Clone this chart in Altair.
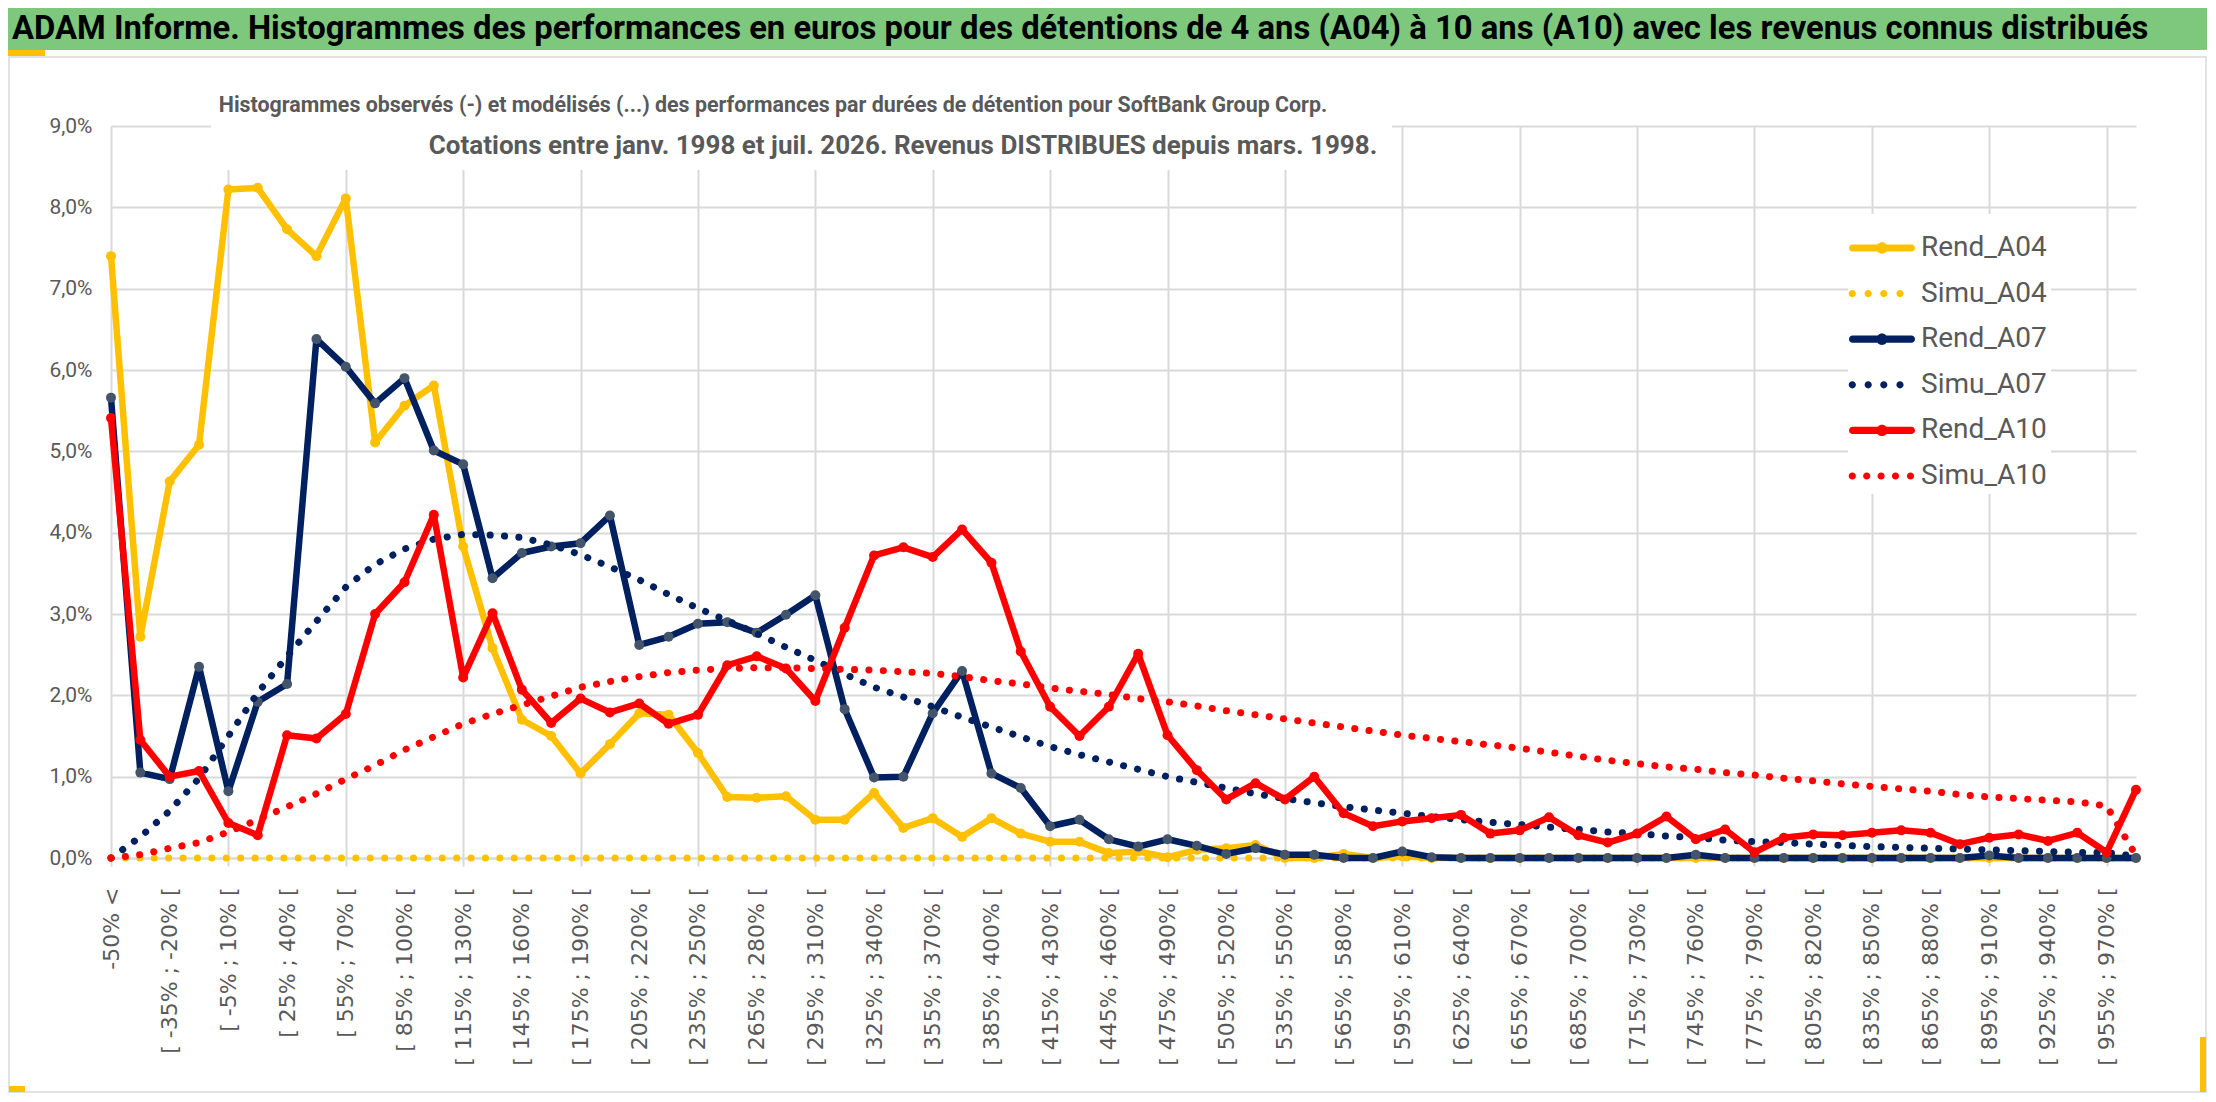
import altair as alt
import pandas as pd

# ---------------- data ----------------
CATEGORIES = [
    "-50% <", "[ -50% ; -35% [", "[ -35% ; -20% [", "[ -20% ; -5% [", "[ -5% ; 10% [",
    "[ 10% ; 25% [", "[ 25% ; 40% [", "[ 40% ; 55% [", "[ 55% ; 70% [", "[ 70% ; 85% [",
    "[ 85% ; 100% [", "[ 100% ; 115% [", "[ 115% ; 130% [", "[ 130% ; 145% [", "[ 145% ; 160% [",
    "[ 160% ; 175% [", "[ 175% ; 190% [", "[ 190% ; 205% [", "[ 205% ; 220% [", "[ 220% ; 235% [",
    "[ 235% ; 250% [", "[ 250% ; 265% [", "[ 265% ; 280% [", "[ 280% ; 295% [", "[ 295% ; 310% [",
    "[ 310% ; 325% [", "[ 325% ; 340% [", "[ 340% ; 355% [", "[ 355% ; 370% [", "[ 370% ; 385% [",
    "[ 385% ; 400% [", "[ 400% ; 415% [", "[ 415% ; 430% [", "[ 430% ; 445% [", "[ 445% ; 460% [",
    "[ 460% ; 475% [", "[ 475% ; 490% [", "[ 490% ; 505% [", "[ 505% ; 520% [", "[ 520% ; 535% [",
    "[ 535% ; 550% [", "[ 550% ; 565% [", "[ 565% ; 580% [", "[ 580% ; 595% [", "[ 595% ; 610% [",
    "[ 610% ; 625% [", "[ 625% ; 640% [", "[ 640% ; 655% [", "[ 655% ; 670% [", "[ 670% ; 685% [",
    "[ 685% ; 700% [", "[ 700% ; 715% [", "[ 715% ; 730% [", "[ 730% ; 745% [", "[ 745% ; 760% [",
    "[ 760% ; 775% [", "[ 775% ; 790% [", "[ 790% ; 805% [", "[ 805% ; 820% [", "[ 820% ; 835% [",
    "[ 835% ; 850% [", "[ 850% ; 865% [", "[ 865% ; 880% [", "[ 880% ; 895% [", "[ 895% ; 910% [",
    "[ 910% ; 925% [", "[ 925% ; 940% [", "[ 940% ; 955% [", "[ 955% ; 970% [", "> 970%",
]

SERIES = ["Rend_A04", "Simu_A04", "Rend_A07", "Simu_A07", "Rend_A10", "Simu_A10"]
COLORS = ["#FFC000", "#FFC000", "#002060", "#002060", "#FF0000", "#FF0000"]
MARKER_COLORS = ["#FFC000", None, "#44546A", None, "#FF0000", None]

# values in percent
REND_A04 = [
    7.40, 2.72, 4.63, 5.08, 8.22, 8.24, 7.73, 7.40, 8.11, 5.11,
    5.56, 5.81, 3.83, 2.58, 1.70, 1.50, 1.04, 1.40, 1.78, 1.76,
    1.29, 0.75, 0.74, 0.76, 0.47, 0.47, 0.80, 0.37, 0.49, 0.26,
    0.49, 0.30, 0.20, 0.20, 0.06, 0.08, 0.01, 0.10, 0.12, 0.16,
    0.00, 0.00, 0.05, 0.00, 0.02, 0.00, 0.00, 0.00, 0.00, 0.00,
    0.00, 0.00, 0.00, 0.00, 0.00, 0.00, 0.00, 0.00, 0.00, 0.00,
    0.00, 0.00, 0.00, 0.00, 0.00, 0.00, 0.00, 0.00, 0.00, 0.00,
]
SIMU_A04 = [
    0.00, 0.00, 0.00, 0.00, 0.00, 0.00, 0.00, 0.00, 0.00, 0.00,
    0.00, 0.00, 0.00, 0.00, 0.00, 0.00, 0.00, 0.00, 0.00, 0.00,
    0.00, 0.00, 0.00, 0.00, 0.00, 0.00, 0.00, 0.00, 0.00, 0.00,
    0.00, 0.00, 0.00, 0.00, 0.00, 0.00, 0.00, 0.00, 0.00, 0.00,
    0.00, 0.00, 0.00, 0.00, 0.00, 0.00, 0.00, 0.00, 0.00, 0.00,
    0.00, 0.00, 0.00, 0.00, 0.00, 0.00, 0.00, 0.00, 0.00, 0.00,
    0.00, 0.00, 0.00, 0.00, 0.00, 0.00, 0.00, 0.00, 0.00, 0.00,
]
REND_A07 = [
    5.66, 1.05, 0.97, 2.35, 0.82, 1.92, 2.14, 6.38, 6.04, 5.59,
    5.90, 5.01, 4.84, 3.44, 3.75, 3.83, 3.87, 4.21, 2.62, 2.72,
    2.88, 2.90, 2.77, 2.99, 3.23, 1.83, 0.99, 1.00, 1.78, 2.30,
    1.04, 0.86, 0.39, 0.47, 0.23, 0.14, 0.23, 0.15, 0.05, 0.12,
    0.04, 0.04, 0.00, 0.00, 0.08, 0.01, 0.00, 0.00, 0.00, 0.00,
    0.00, 0.00, 0.00, 0.00, 0.04, 0.00, 0.00, 0.00, 0.00, 0.00,
    0.00, 0.00, 0.00, 0.00, 0.03, 0.00, 0.00, 0.00, 0.00, 0.00,
]
SIMU_A07 = [
    0.00, 0.26, 0.58, 0.98, 1.50, 2.03, 2.48, 2.91, 3.33, 3.61,
    3.80, 3.92, 3.98, 3.97, 3.94, 3.85, 3.73, 3.58, 3.42, 3.24,
    3.07, 2.92, 2.76, 2.59, 2.43, 2.26, 2.10, 1.98, 1.86, 1.73,
    1.61, 1.49, 1.37, 1.27, 1.18, 1.09, 1.00, 0.93, 0.86, 0.79,
    0.73, 0.68, 0.63, 0.59, 0.55, 0.51, 0.47, 0.44, 0.41, 0.38,
    0.35, 0.32, 0.30, 0.27, 0.25, 0.22, 0.20, 0.19, 0.17, 0.155,
    0.14, 0.13, 0.12, 0.11, 0.10, 0.09, 0.08, 0.07, 0.065, 0.02,
]
REND_A10 = [
    5.41, 1.45, 1.00, 1.07, 0.43, 0.28, 1.51, 1.47, 1.77, 3.00,
    3.39, 4.22, 2.22, 3.01, 2.07, 1.66, 1.96, 1.79, 1.90, 1.65,
    1.76, 2.37, 2.48, 2.33, 1.93, 2.83, 3.72, 3.82, 3.70, 4.04,
    3.63, 2.54, 1.86, 1.50, 1.86, 2.51, 1.51, 1.08, 0.72, 0.92,
    0.72, 1.00, 0.55, 0.39, 0.45, 0.49, 0.53, 0.30, 0.34, 0.50,
    0.28, 0.19, 0.30, 0.51, 0.23, 0.35, 0.07, 0.25, 0.29, 0.28,
    0.31, 0.34, 0.31, 0.17, 0.25, 0.29, 0.21, 0.31, 0.07, 0.84,
]
SIMU_A10 = [
    0.00, 0.04, 0.12, 0.19, 0.32, 0.47, 0.63, 0.79, 0.97, 1.14,
    1.33, 1.49, 1.65, 1.77, 1.88, 1.99, 2.10, 2.17, 2.23, 2.28,
    2.31, 2.33, 2.34, 2.34, 2.33, 2.32, 2.31, 2.29, 2.27, 2.23,
    2.18, 2.14, 2.09, 2.05, 2.01, 1.96, 1.92, 1.87, 1.81, 1.76,
    1.71, 1.66, 1.61, 1.56, 1.51, 1.47, 1.43, 1.39, 1.35, 1.30,
    1.25, 1.20, 1.16, 1.12, 1.09, 1.05, 1.02, 0.98, 0.95, 0.91,
    0.88, 0.85, 0.82, 0.78, 0.75, 0.73, 0.71, 0.69, 0.64, 0.03,
]

Y_TICKS = [0, 1, 2, 3, 4, 5, 6, 7, 8, 9]
LABEL_CATS = CATEGORIES[::2]
GRID_CATS = CATEGORIES[::4]

TITLE = ("ADAM Informe. Histogrammes des performances en euros pour des détentions "
         "de 4 ans (A04) à 10 ans (A10) avec les revenus connus distribués")
SUB1 = ("Histogrammes observés (-) et modélisés (...) des performances par durées "
        "de détention pour SoftBank Group Corp.")
SUB2 = "Cotations entre janv. 1998 et juil. 2026. Revenus DISTRIBUES depuis mars. 1998."

ALL_VALUES = [REND_A04, SIMU_A04, REND_A07, SIMU_A07, REND_A10, SIMU_A10]
for v in ALL_VALUES:
    assert len(v) == len(CATEGORIES), len(v)

rows = []
for name, vals in zip(SERIES, ALL_VALUES):
    for i, (c, v) in enumerate(zip(CATEGORIES, vals)):
        rows.append({"idx": i, "cat": c, "series": name, "value": v})
df = pd.DataFrame(rows)

# ---------------- style ----------------
W, H = 2025, 732
GRID = "#D9D9D9"
TXT = "#595959"


def dots(centers, r=0.12):
    return " ".join(
        f"M{c - r:.3f},0A{r},{r} 0 1 1 {c + r:.3f},0A{r},{r} 0 1 1 {c - r:.3f},0Z"
        for c in centers
    )


REND_PATH = ("M-0.98,-0.12L0.98,-0.12A0.12,0.12 0 0 1 0.98,0.12L-0.98,0.12"
             "A0.12,0.12 0 0 1 -0.98,-0.12Z "
             "M-0.19,0A0.19,0.19 0 1 1 0.19,0A0.19,0.19 0 1 1 -0.19,0Z")
SIMU4_PATH = dots([-0.99, -0.46, 0.06, 0.60])
SIMU5_PATH = dots([-0.99, -0.51, -0.03, 0.45, 0.95])
PATHS = [REND_PATH, SIMU4_PATH, REND_PATH, SIMU4_PATH, REND_PATH, SIMU5_PATH]

grid_test = "indexof(" + str(GRID_CATS).replace("'", '"') + ", datum.value) >= 0"
cond_color = {"condition": {"test": grid_test, "value": GRID}, "value": "transparent"}

X = alt.X(
    "cat:N",
    sort=CATEGORIES,
    scale=alt.Scale(domain=CATEGORIES, type="point", padding=0),
    axis=alt.Axis(
        values=LABEL_CATS, title=None, labelAngle=-90, labelFont="DejaVu Sans",
        labelFontSize=22, labelColor=TXT, labelPadding=21, labelLimit=400,
        labelOverlap=False, tickSize=8, tickWidth=2, tickColor=cond_color,
        grid=True, gridColor=cond_color, gridWidth=2,
        domainColor=GRID, domainWidth=2,
    ),
)
Y = alt.Y(
    "value:Q",
    scale=alt.Scale(domain=[0, 9], nice=False),
    axis=alt.Axis(
        values=Y_TICKS, title=None,
        labelExpr="replace(format(datum.value, '.1f'), '.', ',') + '%'",
        labelFont="Roboto", labelFontSize=21, labelColor=TXT, labelPadding=19,
        ticks=False, tickSize=0, domain=False, gridColor=GRID, gridWidth=2,
    ),
)

LEG = alt.Legend(
    title=None, orient="none", legendX=1737, legendY=88, fillColor="white",
    padding=4, symbolSize=3600, symbolStrokeWidth=0, symbolOpacity=1,
    labelFont="Roboto", labelFontSize=28, labelColor=TXT, labelOffset=9,
    rowPadding=1.6, labelLimit=400,
)

one = pd.DataFrame({"a": [0]})

layers = []

# legend carrier (draws nothing)
layers.append(
    alt.Chart(pd.DataFrame({"series": SERIES}))
    .transform_filter("false")
    .mark_point(filled=True, size=3600)
    .encode(
        fill=alt.Fill("series:N", scale=alt.Scale(domain=SERIES, range=COLORS), legend=LEG),
        shape=alt.Shape("series:N", scale=alt.Scale(domain=SERIES, range=PATHS), legend=LEG),
    )
)

# header band and decorations
def box(x, x2, y, y2, **kw):
    return alt.Chart(one).mark_rect(**kw).encode(
        x=alt.value(x), x2=alt.value(x2), y=alt.value(y), y2=alt.value(y2)
    )

layers.append(box(-102, 2095, -69, 966, fill="transparent", stroke=GRID, strokeWidth=1.5))
layers.append(box(-103, 2096, -118, -76, fill="#7DC87D"))
layers.append(box(-103, -66, -76, -70, fill="#FFC000"))
layers.append(box(-102, -86, 960, 966, fill="#FFC000"))
layers.append(box(2089, 2095, 911, 966, fill="#FFC000"))
layers.append(box(100, 1281, -45, 44, fill="white"))

def text(t, x, y, **kw):
    return alt.Chart(pd.DataFrame({"t": [t]})).mark_text(baseline="middle", **kw).encode(
        text="t:N", x=alt.value(x), y=alt.value(y)
    )

layers.append(text(TITLE, -99, -97, align="left", font="Roboto", fontWeight="bold",
                   fontSize=32.8, color="black"))
layers.append(text(SUB1, 662, -20, align="center", font="Roboto", fontWeight="bold",
                   fontSize=21.4, color=TXT))
layers.append(text(SUB2, 792, 20, align="center", font="Roboto", fontWeight="bold",
                   fontSize=26, color=TXT))

# data series
for name, col, mcol in zip(SERIES, COLORS, MARKER_COLORS):
    base = alt.Chart(df).transform_filter(alt.datum.series == name)
    if name.startswith("Rend"):
        layers.append(
            base.mark_line(color=col, strokeWidth=6.5, strokeCap="round", strokeJoin="round")
            .encode(x=X, y=Y, order="idx:Q")
        )
        layers.append(
            base.mark_point(filled=True, size=100, opacity=1, color=mcol, strokeWidth=0)
            .encode(x=X, y=Y)
        )
    else:
        layers.append(
            base.mark_line(color=col, strokeWidth=7, strokeDash=[0.1, 14.3], strokeCap="round")
            .encode(x=X, y=Y, order="idx:Q")
        )

chart = (
    alt.layer(*layers)
    .properties(width=W, height=H, padding=0, background="white")
    .configure_view(stroke=None)
)

chart.save("out.html", embed_options={"renderer": "svg", "actions": False})
